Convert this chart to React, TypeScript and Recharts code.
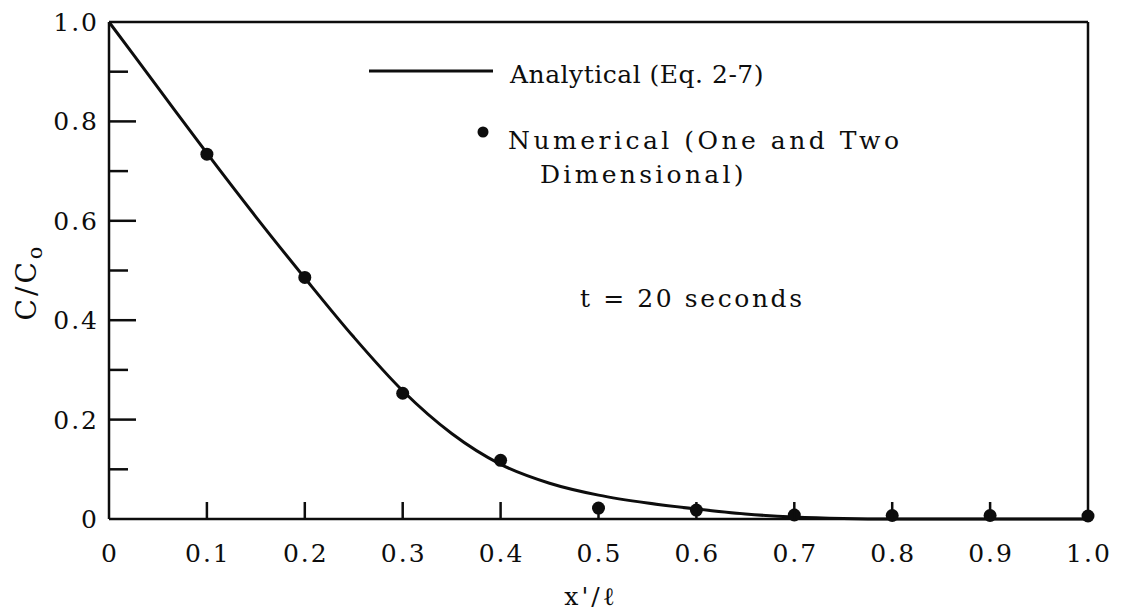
import { ComposedChart, Line, Scatter, XAxis, YAxis, ReferenceLine, Legend } from 'recharts'

const FONT = '"DejaVu Serif", serif'
const INK = '#0d0d0d'
const W = 1106
const H = 610

const xTicks = [0, 0.1, 0.2, 0.3, 0.4, 0.5, 0.6, 0.7, 0.8, 0.9, 1.0]
const yTicks = [0, 0.1, 0.2, 0.3, 0.4, 0.5, 0.6, 0.7, 0.8, 0.9, 1.0]

// analytical curve (Eq. 2-7)
const analyticalX = [0, 0.05, 0.1, 0.15, 0.2, 0.25, 0.3, 0.35, 0.4, 0.45, 0.5, 0.55, 0.6, 0.65, 0.7, 0.75, 0.8, 0.9, 1.0]
const analyticalC = [1.0, 0.868, 0.736, 0.608, 0.485, 0.366, 0.258, 0.172, 0.11, 0.072, 0.048, 0.032, 0.02, 0.01, 0.004, 0.001, 0, 0, 0]

// numerical points
const numericalX = [0.1, 0.2, 0.3, 0.4, 0.5, 0.6, 0.7, 0.8, 0.9, 1.0]
const numericalC = [0.734, 0.486, 0.253, 0.118, 0.022, 0.018, 0.008, 0.007, 0.007, 0.006]

const analyticalName = 'Analytical (Eq. 2-7)'
const numericalName = ['Numerical (One and Two', 'Dimensional)']
const timeNote = 't = 20 seconds'

const analytical = analyticalX.map((x, i) => ({ x, c: analyticalC[i] }))
const numerical = numericalX.map((x, i) => ({ x, c: numericalC[i] }))

const fmt = (v: number) => (v === 0 ? '0' : v.toFixed(1))

function YTick(props: any) {
    const { x, y, payload } = props
    const axisX = x + 12
    const v = payload.value
    const major = Math.round(v * 10) % 2 === 0
    const len = major ? 27 : 19
    return (
        <g>
            {v > 0 && v < 1 && (
                <line x1={axisX} x2={axisX + len} y1={y} y2={y} stroke={INK} strokeWidth={2.5} />
            )}
            {major && (
                <text x={axisX - 10} y={y} dy="0.36em" textAnchor="end" fontFamily={FONT} fontSize={25} letterSpacing={2} fill={INK}>
                    {fmt(v)}
                </text>
            )}
        </g>
    )
}

function XTick(props: any) {
    const { x, y, payload } = props
    const v = payload.value
    return (
        <g>
            {v > 0 && v < 1 && <line x1={x} x2={x} y1={y} y2={y - 17} stroke={INK} strokeWidth={2.5} />}
            <text x={x + 1} y={y + 43} textAnchor="middle" fontFamily={FONT} fontSize={25} letterSpacing={2} fill={INK}>
                {fmt(v)}
            </text>
        </g>
    )
}

function Dot(props: any) {
    const { cx, cy } = props
    return <circle cx={cx} cy={cy} r={6.5} fill={INK} />
}

function Notes() {
    const t = { fontFamily: FONT, fontSize: 25, fill: INK }
    return (
        <svg width={W} height={H} style={{ display: 'block' }}>
            <line x1={361} x2={485} y1={63} y2={63} stroke={INK} strokeWidth={3} />
            <text x={502} y={75} {...t} letterSpacing={0.5}>{analyticalName}</text>
            <circle cx={475} cy={124} r={5.5} fill={INK} />
            <text x={500} y={141} {...t} letterSpacing={3.5}>{numericalName[0]}</text>
            <text x={532} y={175} {...t} letterSpacing={3.3}>{numericalName[1]}</text>
            <text x={572} y={299} {...t} letterSpacing={2.6}>{timeNote}</text>
            <text transform="translate(28 274) rotate(-90)" textAnchor="middle" fontFamily={FONT} fontSize={28} letterSpacing={3} fill={INK}>
                C/C<tspan dy="0.3em" fontSize={21}>o</tspan>
            </text>
            <text x={583} y={597} textAnchor="middle" fontFamily={FONT} fontSize={25} letterSpacing={3} fill={INK}>
                x'/ℓ
            </text>
        </svg>
    )
}

export default function App() {
    return (
        <div style={{ width: W, height: H, background: '#fff' }}>
            <ComposedChart width={W} height={H} margin={{ top: 14, right: 26, left: 0, bottom: 0 }}>
                <XAxis
                    dataKey="x"
                    type="number"
                    domain={[0, 1]}
                    ticks={xTicks}
                    interval={0}
                    height={99}
                    tickSize={0}
                    tickMargin={0}
                    tick={<XTick />}
                    axisLine={{ stroke: INK, strokeWidth: 2.5 }}
                    tickLine={false}
                />
                <YAxis
                    dataKey="c"
                    type="number"
                    domain={[0, 1]}
                    ticks={yTicks}
                    interval={0}
                    width={101}
                    tickSize={0}
                    tickMargin={12}
                    tick={<YTick />}
                    axisLine={{ stroke: INK, strokeWidth: 2.5 }}
                    tickLine={false}
                />
                <ReferenceLine y={1} stroke={INK} strokeWidth={2.5} />
                <ReferenceLine x={1} stroke={INK} strokeWidth={2.5} />
                <Line
                    data={analytical}
                    dataKey="c"
                    name={analyticalName}
                    type="monotone"
                    stroke={INK}
                    strokeWidth={3}
                    dot={false}
                    isAnimationActive={false}
                />
                <Scatter
                    data={numerical}
                    dataKey="c"
                    name={numericalName.join(' ')}
                    fill={INK}
                    shape={<Dot />}
                    isAnimationActive={false}
                />
                <Legend
                    layout="horizontal"
                    verticalAlign="middle"
                    align="center"
                    content={() => <Notes />}
                    wrapperStyle={{ position: 'absolute', left: 0, top: 0, width: W, height: H, pointerEvents: 'none' }}
                />
            </ComposedChart>
        </div>
    )
}
